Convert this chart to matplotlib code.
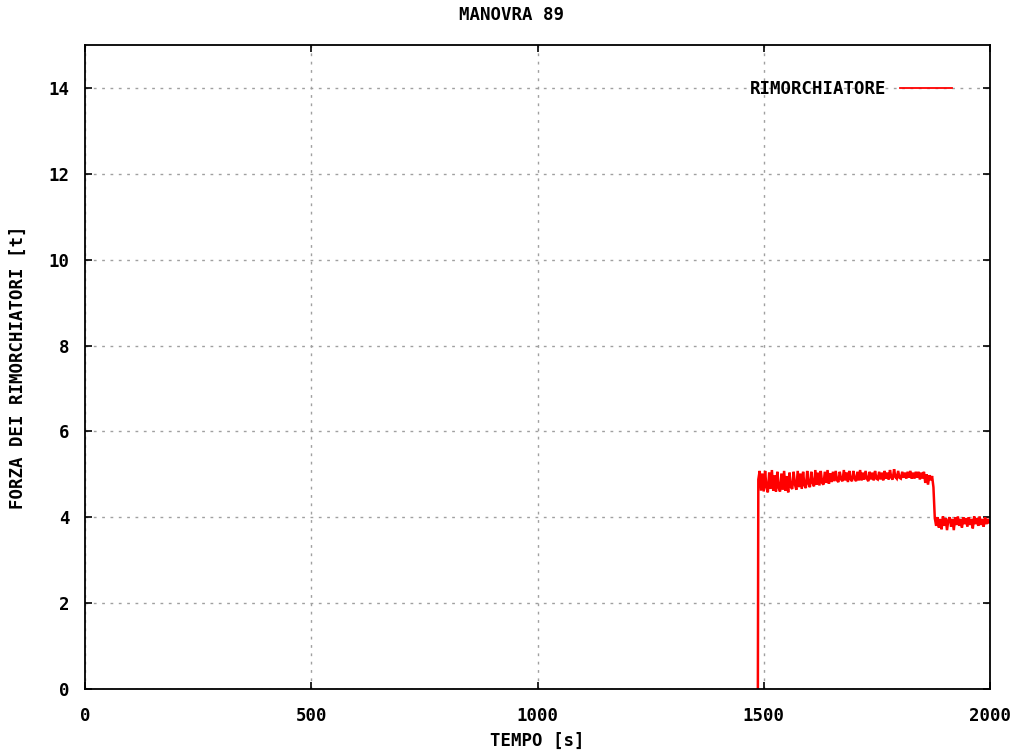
import numpy as np
import matplotlib
matplotlib.use("Agg")
import matplotlib.pyplot as plt
from matplotlib.lines import Line2D

# Tug force record, manoeuvre 89
title = "MANOVRA 89"
x_label = "TEMPO [s]"
y_label = "FORZA DEI RIMORCHIATORI [t]"
series_name = "RIMORCHIATORE"

x_ticks = [0, 500, 1000, 1500, 2000]
y_ticks = [0, 2, 4, 6, 8, 10, 12, 14]

# engagement instant (force rises from zero)
t_start = 1487
# first phase: samples every 3 s starting at 1488 s
phase1_t0 = 1488
phase1_dt = 3
phase1_force = [
    4.88, 5.08, 4.62, 5.02, 4.60, 5.08, 4.70, 4.58, 5.04, 4.66, 5.10, 4.62, 4.98,
    4.60, 5.06, 4.68, 4.60, 5.02, 4.64, 5.08, 4.62, 4.96, 4.58, 5.04, 4.70,
    4.66, 5.06, 4.76, 4.64, 5.08, 4.70, 5.02, 4.66, 5.06, 4.74, 4.68, 5.08, 4.78,
    4.70, 5.06, 4.80, 4.72, 5.10, 4.76, 5.04, 4.74, 5.08, 4.80, 4.76, 5.06, 4.80,
    5.10, 4.78, 5.02, 4.82,
    5.06, 4.84, 5.08, 4.86, 4.82, 5.06, 4.88, 4.84, 5.10, 4.86,
    5.04, 4.82, 5.08, 4.88, 4.84, 5.08, 4.90, 4.84, 5.06, 4.86,
    5.10, 4.86, 5.04, 4.88, 5.08, 4.90, 4.84, 5.06, 4.88, 5.04,
    4.86, 5.08, 4.90, 4.88, 5.06, 4.88, 5.04, 4.86, 5.08, 4.90,
    5.04, 4.88, 5.10, 4.92, 4.88, 5.12, 4.94, 4.90, 5.08, 4.92,
    4.90, 5.06, 4.92, 5.04, 4.90, 5.06, 4.92, 5.08, 4.90, 5.04,
    4.90, 5.06, 4.92, 5.06, 4.88, 5.04, 4.90, 5.06, 4.80, 5.00,
    4.76, 4.98, 4.86, 4.96, 4.70,
]
# second phase after the drop: samples every 3 s starting at 1878 s
phase2_t0 = 1878
phase2_dt = 3
phase2_force = [
    3.98, 3.80, 4.00, 3.76, 3.96, 3.72, 4.02, 3.80, 3.98, 3.70, 3.94, 4.00, 3.78,
    3.96, 3.70, 4.00, 3.82, 4.02, 3.80, 3.96, 3.76, 4.00, 3.84, 3.98, 3.78, 4.00,
    3.82, 3.96, 3.74, 4.02, 3.84, 3.98, 3.80, 4.02, 3.82, 3.96, 3.78, 4.00, 3.84,
    3.96, 3.88,
]

t1 = phase1_t0 + phase1_dt * np.arange(len(phase1_force))
t2 = phase2_t0 + phase2_dt * np.arange(len(phase2_force))
t = np.concatenate([[t_start], t1, t2])
f = np.concatenate([[0.0], phase1_force, phase2_force])
t = np.minimum(t, 2000)

font = dict(family="DejaVu Sans Mono", weight="bold", size=12.5)
plt.rcParams["font.family"] = "DejaVu Sans Mono"
plt.rcParams["font.weight"] = "bold"
plt.rcParams["font.size"] = 12.5

fig = plt.figure(figsize=(10.23, 7.53), dpi=100)
ax = fig.add_axes([85 / 1023, 64 / 753, 905 / 1023, 644 / 753])

ax.plot(t, f, color="#ff0000", lw=1.8, solid_joinstyle="miter")

ax.set_xlim(0, 2000)
ax.set_ylim(0, 15)
ax.set_xticks(x_ticks)
ax.set_yticks(y_ticks)
ax.set_xticklabels([str(v) for v in x_ticks], fontdict=font)
ax.set_yticklabels([str(v) for v in y_ticks], fontdict=font)
ax.tick_params(direction="in", length=5, width=1.2, top=True, right=True,
               colors="#000000")
ax.tick_params(axis="x", pad=13)
ax.tick_params(axis="y", pad=11)
ax.grid(True, color="#a0a0a0", linestyle=(0, (2, 4)), linewidth=1.0)
for s in ax.spines.values():
    s.set_linewidth(1.3)
    s.set_color("#000000")

fig.text(0.5, 1 - 15 / 753, title, ha="center", va="center", **font)
fig.text((85 + 990) / 2 / 1023, 1 - 741 / 753, x_label, ha="center", va="center", **font)
fig.text(18 / 1023, 1 - 367 / 753, y_label, ha="center", va="center",
         rotation=90, **font)

handle = Line2D([], [], color="#ff0000", lw=1.3)
ax.legend([handle], [series_name], loc="center right", markerfirst=False,
          frameon=False, prop=font,
          bbox_to_anchor=((952 - 85) / 905, (689 - 89) / 644),
          borderaxespad=0, borderpad=0, handlelength=3.0, handletextpad=0.8)

fig.savefig("out.png", dpi=100)
